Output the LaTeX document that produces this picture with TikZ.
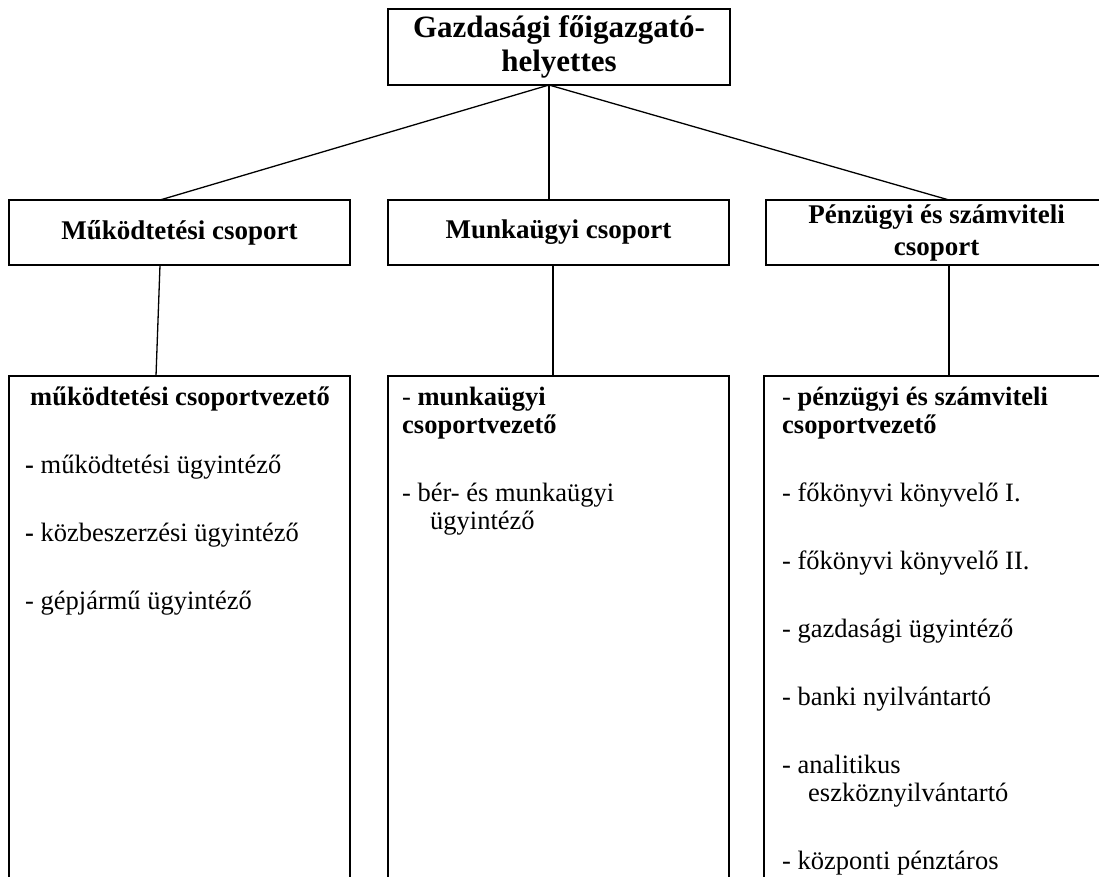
\documentclass[tikz,border=0pt]{standalone}
\usepackage{fontspec}
\setmainfont{Liberation Serif}
\tikzset{
  box/.style={draw, line width=2pt, rectangle, inner sep=0pt, align=center},
  titlefont/.style={font=\bfseries\fontsize{31}{34}\selectfont},
  groupfont/.style={font=\bfseries\fontsize{27}{32}\selectfont},
  conn/.style={line width=1.3pt},
  item/.style={anchor=base west, inner sep=0pt, font=\fontsize{26.5}{29}\selectfont},
  bhead/.style={anchor=base, inner sep=0pt, font=\bfseries\fontsize{26.5}{29}\selectfont},
}
\begin{document}
\begin{tikzpicture}[x=1pt,y=-1pt]
\path[use as bounding box] (0,0) rectangle (1099,876);
\clip (0,0) rectangle (1099,876);

% top box
\node[box, titlefont, minimum width=342pt, minimum height=76pt] (top) at (559,47) {Gazdasági főigazgató-\\helyettes};

% middle row
\node[box, groupfont, minimum width=341pt, minimum height=65pt] (m1) at (179.5,232.5) {Működtetési csoport};
\node[box, groupfont, minimum width=341pt, minimum height=65pt] (m2) at (558.5,232.5) {Munkaügyi csoport};
\node[box, groupfont, minimum width=341pt, minimum height=65pt] (m3) at (936.5,232.5) {Pénzügyi és számviteli\\csoport};

% bottom boxes (run past the lower edge)
\node[box, minimum width=341pt, minimum height=524pt] (b1) at (179.5,638) {};
\node[box, minimum width=341pt, minimum height=524pt] (b2) at (558.5,638) {};
\node[box, minimum width=341pt, minimum height=524pt] (b3) at (934.5,638) {};

% connector ends
\coordinate (a0) at (549,85);
\coordinate (m1t) at (160,200);
\coordinate (m2t) at (549,200);
\coordinate (m3t) at (949,200);
\coordinate (m1b) at (160,265);
\coordinate (b1t) at (156,376);
\coordinate (m2b) at (553,265);
\coordinate (b2t) at (553,376);
\coordinate (m3b) at (949,265);
\coordinate (b3t) at (949,376);

\draw[conn] (a0) -- (m1t);
\draw[conn] (a0) -- (m2t);
\draw[conn] (a0) -- (m3t);
\draw[conn] (m1b) -- (b1t);
\draw[conn] (m2b) -- (b2t);
\draw[conn] (m3b) -- (b3t);

% left column texts
\node[bhead] (l0) at (180,405) {működtetési csoportvezető};
\node[item] (l1) at (25,473) {\textbf{-} működtetési ügyintéző};
\node[item] (l2) at (25,541) {\textbf{-} közbeszerzési ügyintéző};
\node[item] (l3) at (25,609) {- gépjármű ügyintéző};

% middle column texts
\node[item] (c0) at (402,405) {- \textbf{munkaügyi}};
\node[item] (c1) at (402,433) {\textbf{csoportvezető}};
\node[item] (c2) at (402,501) {- bér- és munkaügyi};
\node[item] (c3) at (430,529) {ügyintéző};

% right column texts
\node[item] (r0) at (782,405) {- \textbf{pénzügyi és számviteli}};
\node[item] (r1) at (782,433) {\textbf{csoportvezető}};
\node[item] (r2) at (782,501) {- főkönyvi könyvelő I.};
\node[item] (r3) at (782,569) {- főkönyvi könyvelő II.};
\node[item] (r4) at (782,637) {- gazdasági ügyintéző};
\node[item] (r5) at (782,705) {- banki nyilvántartó};
\node[item] (r6) at (782,773) {- analitikus};
\node[item] (r7) at (808,801) {eszköznyilvántartó};
\node[item] (r8) at (782,869) {- központi pénztáros};
\end{tikzpicture}
\end{document}
